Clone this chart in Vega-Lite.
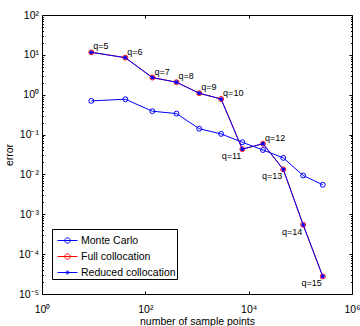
{
  "$schema": "https://vega.github.io/schema/vega-lite/v6.json",
  "width": 310,
  "height": 279,
  "autosize": {"type": "none"},
  "padding": {"left": 42, "top": 15, "right": 8, "bottom": 32},
  "background": "white",
  "config": {
    "font": "Liberation Sans",
    "view": {"stroke": "black", "strokeWidth": 1},
    "axis": {
      "labelFont": "Liberation Sans",
      "titleFont": "Liberation Sans",
      "labelFontSize": 10.5,
      "titleFontSize": 10.5,
      "titleFontWeight": "normal",
      "labelColor": "black",
      "titleColor": "black",
      "tickColor": "black",
      "tickWidth": 1,
      "domain": false,
      "grid": false,
      "tickSize": -3,
      "labelFlush": false,
      "labelOverlap": false,
      "labelBound": false
    }
  },
  "data": {
    "values": [
      {"series": "Monte Carlo", "q": "q=5", "points": 9, "error": 0.70},
      {"series": "Monte Carlo", "q": "q=6", "points": 41, "error": 0.77},
      {"series": "Monte Carlo", "q": "q=7", "points": 137, "error": 0.386},
      {"series": "Monte Carlo", "q": "q=8", "points": 401, "error": 0.336},
      {"series": "Monte Carlo", "q": "q=9", "points": 1105, "error": 0.14},
      {"series": "Monte Carlo", "q": "q=10", "points": 2929, "error": 0.104},
      {"series": "Monte Carlo", "q": "q=11", "points": 7537, "error": 0.064},
      {"series": "Monte Carlo", "q": "q=12", "points": 18945, "error": 0.041},
      {"series": "Monte Carlo", "q": "q=13", "points": 46721, "error": 0.026},
      {"series": "Monte Carlo", "q": "q=14", "points": 113409, "error": 0.0094},
      {"series": "Monte Carlo", "q": "q=15", "points": 271617, "error": 0.0055},
      {"series": "Full collocation", "q": "q=5", "points": 9, "error": 11.6},
      {"series": "Full collocation", "q": "q=6", "points": 41, "error": 8.5},
      {"series": "Full collocation", "q": "q=7", "points": 137, "error": 2.69},
      {"series": "Full collocation", "q": "q=8", "points": 401, "error": 2.06},
      {"series": "Full collocation", "q": "q=9", "points": 1105, "error": 1.09},
      {"series": "Full collocation", "q": "q=10", "points": 2929, "error": 0.78},
      {"series": "Full collocation", "q": "q=11", "points": 7537, "error": 0.043},
      {"series": "Full collocation", "q": "q=12", "points": 18945, "error": 0.059},
      {"series": "Full collocation", "q": "q=13", "points": 46721, "error": 0.0134},
      {"series": "Full collocation", "q": "q=14", "points": 113409, "error": 0.000546},
      {"series": "Full collocation", "q": "q=15", "points": 271617, "error": 0.0000276},
      {"series": "Reduced collocation", "q": "q=5", "points": 9, "error": 11.6},
      {"series": "Reduced collocation", "q": "q=6", "points": 41, "error": 8.5},
      {"series": "Reduced collocation", "q": "q=7", "points": 137, "error": 2.69},
      {"series": "Reduced collocation", "q": "q=8", "points": 401, "error": 2.06},
      {"series": "Reduced collocation", "q": "q=9", "points": 1105, "error": 1.09},
      {"series": "Reduced collocation", "q": "q=10", "points": 2929, "error": 0.78},
      {"series": "Reduced collocation", "q": "q=11", "points": 7537, "error": 0.043},
      {"series": "Reduced collocation", "q": "q=12", "points": 18945, "error": 0.059},
      {"series": "Reduced collocation", "q": "q=13", "points": 46721, "error": 0.0134},
      {"series": "Reduced collocation", "q": "q=14", "points": 113409, "error": 0.000546},
      {"series": "Reduced collocation", "q": "q=15", "points": 271617, "error": 0.0000276}
    ]
  },
  "resolve": {
    "scale": {"x": "shared", "y": "shared", "color": "shared"},
    "axis": {"x": "independent", "y": "independent"}
  },
  "layer": [
    {
      "transform": [{"filter": "datum.series === 'Monte Carlo'"}],
      "mark": {"type": "line", "strokeWidth": 1},
      "encoding": {
        "x": {"field": "points", "type": "quantitative",
          "scale": {"type": "log", "domain": [1, 1000000], "nice": false},
          "axis": {"orient": "bottom", "values": [1, 100, 10000, 1000000],
            "labelExpr": "'10' + ['⁻⁵','⁻⁴','⁻³','⁻²','⁻¹','⁰','¹','²','³','⁴','⁵','⁶'][round(log(datum.value)/LN10)+5]",
            "labelPadding": 13, "title": "number of sample points", "titlePadding": 2}},
        "y": {"field": "error", "type": "quantitative",
          "scale": {"type": "log", "domain": [0.00001, 100], "nice": false},
          "axis": {"orient": "left", "values": [0.00001, 0.0001, 0.001, 0.01, 0.1, 1, 10, 100],
            "labelExpr": "'10' + ['⁻⁵','⁻⁴','⁻³','⁻²','⁻¹','⁰','¹','²','³','⁴','⁵','⁶'][round(log(datum.value)/LN10)+5]",
            "labelPadding": 6.5, "title": "error", "titlePadding": 4}},
        "color": {"field": "series", "type": "nominal",
          "scale": {"domain": ["Monte Carlo", "Full collocation", "Reduced collocation"],
            "range": ["#0000ff", "#ff0000", "#0000ff"]},
          "legend": {
            "orient": "none", "legendX": 10, "legendY": 214,
            "title": null,
            "fillColor": "white", "strokeColor": "black",
            "padding": 1, "symbolOffset": 4,
            "labelFont": "Liberation Sans", "labelFontSize": 10.5, "labelColor": "black",
            "labelOffset": 3, "symbolSize": 400, "rowPadding": -3.5,
            "symbolFillColor": "transparent",
            "labelExpr": "datum.label + '\u00a0\u00a0\u00a0\u00a0\u00a0'",
            "encode": {"symbols": {"update": {
              "shape": {"signal": "datum.value === 'Reduced collocation' ? 'M-1,0L1,0M0.05,0A0.05,0.05,0,1,1,-0.05,0A0.05,0.05,0,1,1,0.05,0ZM0.15,0A0.15,0.15,0,1,1,-0.15,0A0.15,0.15,0,1,1,0.15,0Z' : 'M-1,0L1,0M0.27,0A0.27,0.27,0,1,1,-0.27,0A0.27,0.27,0,1,1,0.27,0Z'"},
              "fill": {"value": "transparent"},
              "fillOpacity": {"value": 0},
              "stroke": {"signal": "datum.value === 'Full collocation' ? '#ff0000' : '#0000ff'"},
              "strokeWidth": {"value": 1},
              "opacity": {"value": 1}
            }}}
          }}
      }
    },
    {
      "transform": [{"filter": "datum.series === 'Monte Carlo'"}],
      "mark": {"type": "point", "shape": "circle", "filled": false, "size": 24, "strokeWidth": 1, "opacity": 1},
      "encoding": {
        "x": {"field": "points", "type": "quantitative",
          "axis": {"orient": "top", "values": [100, 10000], "labels": false, "title": null}},
        "y": {"field": "error", "type": "quantitative",
          "axis": {"orient": "right", "values": [0.00001, 0.0001, 0.001, 0.01, 0.1, 1, 10, 100], "labels": false, "title": null}},
        "color": {"field": "series", "type": "nominal"}
      }
    },
    {
      "transform": [{"filter": "datum.series === 'Full collocation'"}],
      "mark": {"type": "line", "strokeWidth": 1},
      "encoding": {
        "x": {"field": "points", "type": "quantitative", "axis": null},
        "y": {"field": "error", "type": "quantitative",
          "axis": {"orient": "left", "tickSize": -1.5, "labels": false, "title": null,
            "values": [0.00002,0.00003,0.00004,0.00005,0.00006,0.00007,0.00008,0.00009,0.0002,0.0003,0.0004,0.0005,0.0006,0.0007,0.0008,0.0009,0.002,0.003,0.004,0.005,0.006,0.007,0.008,0.009,0.02,0.03,0.04,0.05,0.06,0.07,0.08,0.09,0.2,0.3,0.4,0.5,0.6,0.7,0.8,0.9,2,3,4,5,6,7,8,9,20,30,40,50,60,70,80,90]}},
        "color": {"field": "series", "type": "nominal"}
      }
    },
    {
      "transform": [{"filter": "datum.series === 'Full collocation'"}],
      "mark": {"type": "point", "shape": "circle", "filled": false, "size": 24, "strokeWidth": 1, "opacity": 1},
      "encoding": {
        "x": {"field": "points", "type": "quantitative", "axis": null},
        "y": {"field": "error", "type": "quantitative",
          "axis": {"orient": "right", "tickSize": -1.5, "labels": false, "title": null,
            "values": [0.00002,0.00003,0.00004,0.00005,0.00006,0.00007,0.00008,0.00009,0.0002,0.0003,0.0004,0.0005,0.0006,0.0007,0.0008,0.0009,0.002,0.003,0.004,0.005,0.006,0.007,0.008,0.009,0.02,0.03,0.04,0.05,0.06,0.07,0.08,0.09,0.2,0.3,0.4,0.5,0.6,0.7,0.8,0.9,2,3,4,5,6,7,8,9,20,30,40,50,60,70,80,90]}},
        "color": {"field": "series", "type": "nominal"}
      }
    },
    {
      "transform": [{"filter": "datum.series === 'Reduced collocation'"}],
      "mark": {"type": "line", "strokeWidth": 1},
      "encoding": {
        "x": {"field": "points", "type": "quantitative", "axis": null},
        "y": {"field": "error", "type": "quantitative", "axis": null},
        "color": {"field": "series", "type": "nominal"}
      }
    },
    {
      "transform": [{"filter": "datum.series === 'Reduced collocation'"}],
      "mark": {"type": "point", "shape": "circle", "filled": true, "size": 14, "opacity": 1},
      "encoding": {
        "x": {"field": "points", "type": "quantitative", "axis": null},
        "y": {"field": "error", "type": "quantitative", "axis": null},
        "color": {"field": "series", "type": "nominal"}
      }
    },
    {
      "transform": [
        {"filter": "datum.series === 'Reduced collocation'"},
        {"filter": {"not": {"field": "q", "oneOf": ["q=11", "q=13", "q=14", "q=15"]}}}
      ],
      "mark": {"type": "text", "font": "Liberation Sans", "fontSize": 9, "align": "left", "baseline": "middle", "dx": 2, "dy": -6, "color": "black"},
      "encoding": {
        "x": {"field": "points", "type": "quantitative", "axis": null},
        "y": {"field": "error", "type": "quantitative", "axis": null},
        "text": {"field": "q"}
      }
    },
    {
      "transform": [
        {"filter": "datum.series === 'Reduced collocation'"},
        {"filter": {"field": "q", "oneOf": ["q=11", "q=13", "q=14", "q=15"]}}
      ],
      "mark": {"type": "text", "font": "Liberation Sans", "fontSize": 9, "align": "right", "baseline": "middle", "dx": -1, "dy": 7, "color": "black"},
      "encoding": {
        "x": {"field": "points", "type": "quantitative", "axis": null},
        "y": {"field": "error", "type": "quantitative", "axis": null},
        "text": {"field": "q"}
      }
    }
  ]
}
